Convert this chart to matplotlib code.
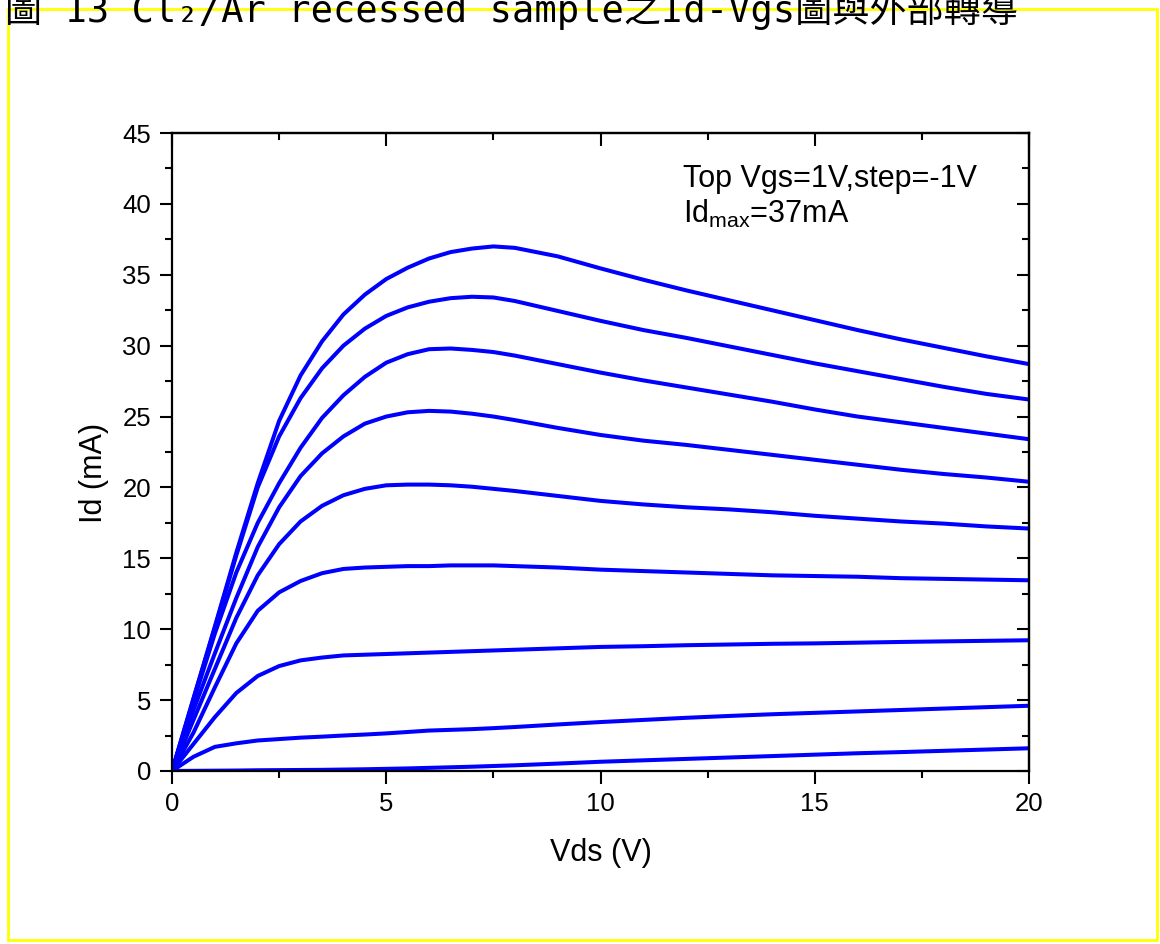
import matplotlib
matplotlib.use("Agg")
import matplotlib.pyplot as plt
from matplotlib.patches import Rectangle
from matplotlib.ticker import MultipleLocator

plt.rcParams['font.family'] = ['Liberation Sans']
plt.rcParams['mathtext.fontset'] = 'custom'
plt.rcParams['mathtext.rm'] = 'Liberation Sans'

# Vds sweep (V)
vds = [0, 0.5, 1, 1.5, 2, 2.5, 3, 3.5, 4, 4.5, 5, 5.5, 6, 6.5, 7, 7.5, 8,
       9, 10, 11, 12, 13, 14, 15, 16, 17, 18, 19, 20]

# Id (mA) for Vgs = 1V down to -7V, step -1V
id_vgs_p1 = [0, 5.1, 10.2, 15.4, 20.3, 24.7, 27.9, 30.3, 32.2, 33.6, 34.7, 35.5, 36.15, 36.6, 36.85,
             37.0, 36.9, 36.3, 35.45, 34.65, 33.9, 33.2, 32.5, 31.8, 31.1, 30.45, 29.85, 29.25, 28.7]
id_vgs_0 = [0, 5.1, 10.1, 15.2, 20.0, 23.6, 26.3, 28.4, 30.0, 31.2, 32.1, 32.7, 33.1, 33.35, 33.45,
            33.4, 33.15, 32.45, 31.75, 31.1, 30.55, 29.95, 29.35, 28.75, 28.2, 27.65, 27.1, 26.6, 26.2]
id_vgs_m1 = [0, 4.9, 9.7, 14.0, 17.5, 20.3, 22.8, 24.9, 26.5, 27.8, 28.8, 29.4, 29.75, 29.8, 29.7,
             29.55, 29.3, 28.7, 28.1, 27.55, 27.05, 26.55, 26.05, 25.5, 25.0, 24.6, 24.2, 23.8, 23.4]
id_vgs_m2 = [0, 4.3, 8.3, 12.2, 15.8, 18.6, 20.8, 22.4, 23.6, 24.5, 25.0, 25.3, 25.4, 25.35, 25.2,
             25.0, 24.75, 24.2, 23.7, 23.3, 23.0, 22.65, 22.3, 21.95, 21.6, 21.25, 20.95, 20.7, 20.4]
id_vgs_m3 = [0, 3.6, 7.2, 10.8, 13.8, 16.0, 17.6, 18.7, 19.45, 19.9, 20.15, 20.2, 20.2, 20.15, 20.05,
             19.9, 19.75, 19.4, 19.05, 18.8, 18.6, 18.45, 18.25, 18.0, 17.8, 17.6, 17.45, 17.25, 17.1]
id_vgs_m4 = [0, 2.7, 5.9, 9.0, 11.3, 12.6, 13.4, 13.95, 14.25, 14.35, 14.4, 14.45, 14.45, 14.5, 14.5,
             14.5, 14.45, 14.35, 14.2, 14.1, 14.0, 13.9, 13.8, 13.75, 13.7, 13.6, 13.55, 13.5, 13.45]
id_vgs_m5 = [0, 1.9, 3.8, 5.5, 6.7, 7.4, 7.8, 8.0, 8.15, 8.2, 8.25, 8.3, 8.35, 8.4, 8.45,
             8.5, 8.55, 8.65, 8.75, 8.8, 8.87, 8.92, 8.97, 9.0, 9.05, 9.1, 9.14, 9.18, 9.22]
id_vgs_m6 = [0, 1.0, 1.7, 1.95, 2.15, 2.25, 2.35, 2.42, 2.5, 2.57, 2.65, 2.75, 2.85, 2.9, 2.95,
             3.02, 3.1, 3.28, 3.45, 3.6, 3.75, 3.88, 4.0, 4.1, 4.2, 4.3, 4.4, 4.5, 4.6]
id_vgs_m7 = [0, 0.01, 0.02, 0.03, 0.05, 0.06, 0.07, 0.08, 0.1, 0.12, 0.15, 0.18, 0.22, 0.26, 0.3,
             0.35, 0.4, 0.52, 0.65, 0.75, 0.85, 0.95, 1.05, 1.15, 1.25, 1.33, 1.42, 1.51, 1.6]

curves = [id_vgs_p1, id_vgs_0, id_vgs_m1, id_vgs_m2, id_vgs_m3,
          id_vgs_m4, id_vgs_m5, id_vgs_m6, id_vgs_m7]

title = '圖 13 Cl₂/Ar recessed sample之Id-Vgs圖與外部轉導'

fig = plt.figure(figsize=(11.6, 9.44), dpi=100)
ax = fig.add_axes([0.1483, 0.1833, 0.7388, 0.6758])

for cur in curves:
    ax.plot(vds, cur, color='#0000ff', lw=2.9, solid_joinstyle='round',
            solid_capstyle='butt')

ax.set_xlim(0, 20)
ax.set_ylim(0, 45)
ax.xaxis.set_major_locator(MultipleLocator(5))
ax.xaxis.set_minor_locator(MultipleLocator(2.5))
ax.yaxis.set_major_locator(MultipleLocator(5))
ax.yaxis.set_minor_locator(MultipleLocator(2.5))

for s in ax.spines.values():
    s.set_linewidth(1.6)
ax.tick_params(which='both', direction='out', width=1.5, labelsize=18.5, pad=6)
ax.tick_params(which='major', length=9)
ax.tick_params(which='minor', length=5)

# mirrored inward ticks on top / right
axt = ax.secondary_xaxis('top')
axt.xaxis.set_major_locator(MultipleLocator(5))
axt.xaxis.set_minor_locator(MultipleLocator(2.5))
axt.tick_params(which='both', direction='in', width=1.5, labeltop=False)
axt.tick_params(which='major', length=9)
axt.tick_params(which='minor', length=5)
axr = ax.secondary_yaxis('right')
axr.yaxis.set_major_locator(MultipleLocator(5))
axr.yaxis.set_minor_locator(MultipleLocator(2.5))
axr.tick_params(which='both', direction='in', width=1.5, labelright=False)
axr.tick_params(which='major', length=9)
axr.tick_params(which='minor', length=5)
for sa in (axt, axr):
    for s in sa.spines.values():
        s.set_linewidth(1.6)

ax.set_xlabel('Vds (V)', fontsize=22, labelpad=16)
ax.set_ylabel('Id (mA)', fontsize=22, labelpad=10)
ax.yaxis.label.set_y(0.467)

ax.text(11.93, 41.2, 'Top Vgs=1V,step=-1V', fontsize=22, va='baseline', ha='left')
ax.text(11.93, 38.65, r'Id$_\mathrm{max}$=37mA', fontsize=22, va='baseline', ha='left')

fig.text(0.004, 0.9767, title, fontsize=26.7, va='baseline', ha='left',
         family=['DejaVu Sans Mono', 'Noto Sans CJK TC'])

fig.add_artist(Rectangle((8 / 1160, 4 / 944), 1149 / 1160, 931 / 944,
                         transform=fig.transFigure, fill=False,
                         edgecolor='#ffff00', lw=2))

fig.savefig('out.png', dpi=100)
